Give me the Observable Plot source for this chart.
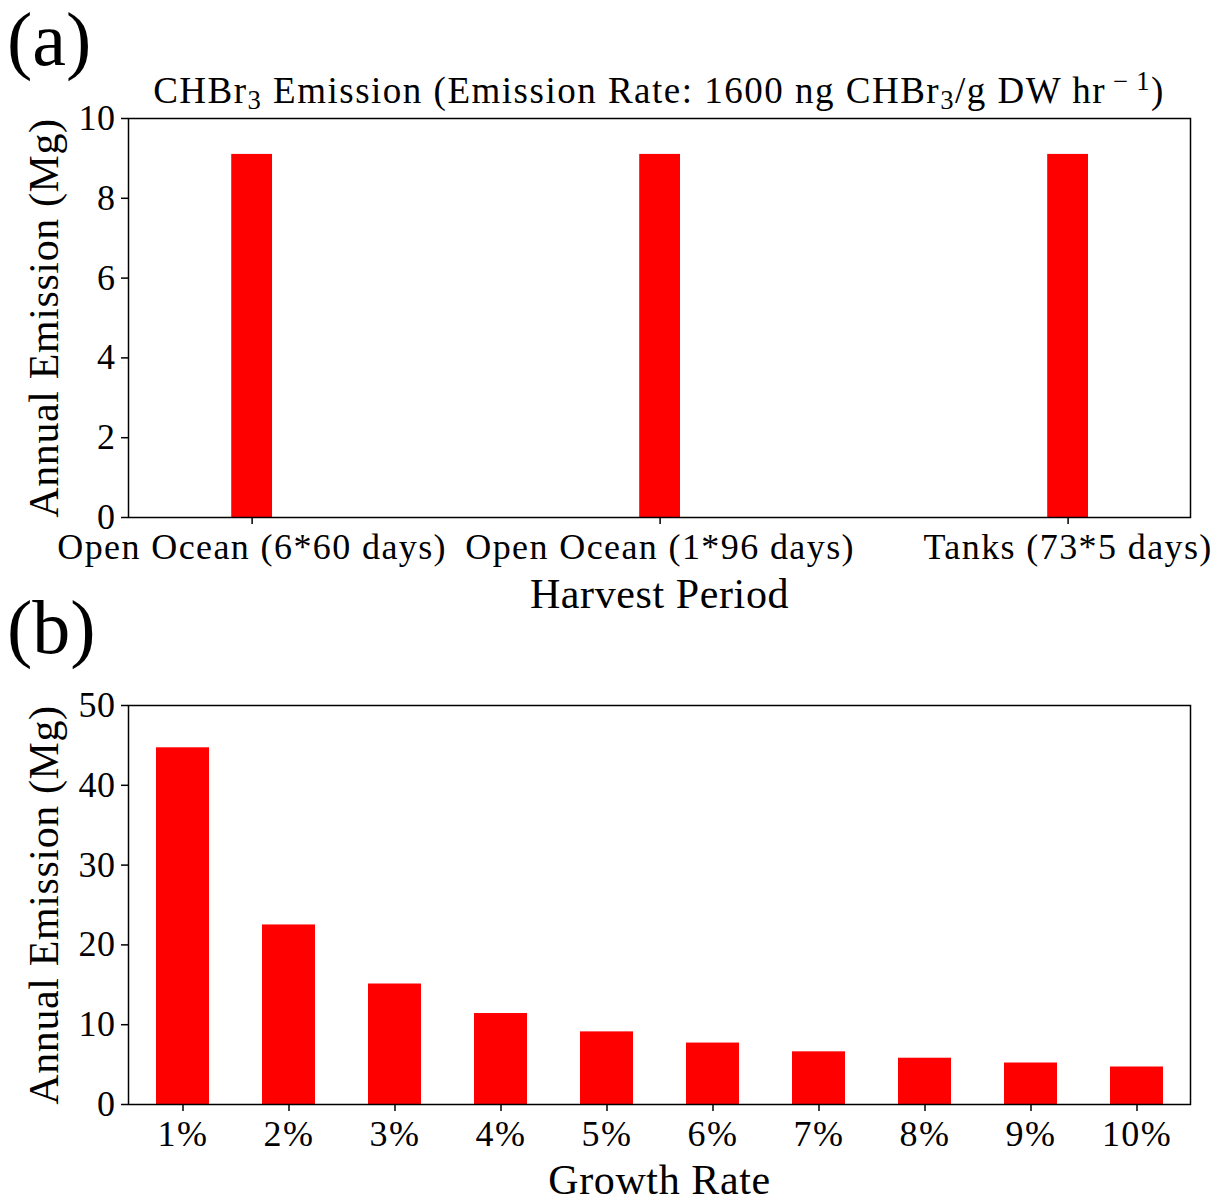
<!DOCTYPE html>
<html><head><meta charset="utf-8">
<script src="https://cdn.jsdelivr.net/npm/d3@7"></script>
<script src="https://cdn.jsdelivr.net/npm/@observablehq/plot@0.6"></script>
<style>
body{margin:0;background:#fff;}
#wrap{position:relative;width:1228px;height:1199px;font-family:"Liberation Serif","Times New Roman",serif;color:#000;overflow:hidden;background:#fff}
.abs{position:absolute;white-space:nowrap;line-height:1}
.panel{position:absolute;left:0}
.sub{font-size:0.72em;position:relative;top:0.24em}
.sup{font-size:0.72em;position:relative;top:-0.5em}
.chart g[aria-label="x-axis tick label"] text{letter-spacing:1.4px}
.chart g[aria-label="y-axis tick label"] text{letter-spacing:0.5px}
.chart g[aria-label="text"] text{letter-spacing:0.6px}
</style></head><body>
<div id="wrap">
  <div id="pa" class="panel" style="top:0"></div>
  <div id="pb" class="panel" style="top:620px"></div>
  <div class="abs" style="left:7px;top:1px;font-size:76px">(a)</div>
  <div class="abs" style="left:7px;top:589px;font-size:76px">(b)</div>
  <div class="abs" style="left:128px;width:1062px;text-align:center;top:72px;font-size:37px;letter-spacing:1.5px">CHBr<span class="sub">3</span> Emission (Emission Rate: 1600 ng CHBr<span class="sub">3</span>/g DW hr<span class="sup">&#8201;&#8722;&#8201;1</span>)</div>
</div>
<script>
const harvestPeriods = ["Open Ocean (6*60 days)", "Open Ocean (1*96 days)", "Tanks (73*5 days)"];
const harvestEmission = [9.1, 9.1, 9.1];
const harvestTicks = [0, 2, 4, 6, 8, 10];

const growthRates = ["1%", "2%", "3%", "4%", "5%", "6%", "7%", "8%", "9%", "10%"];
const growthEmission = [44.7, 22.5, 15.1, 11.4, 9.1, 7.7, 6.6, 5.8, 5.2, 4.7];
const growthTicks = [0, 10, 20, 30, 40, 50];

const yLabel = "Annual Emission (Mg)";
const xLabelA = "Harvest Period";
const xLabelB = "Growth Rate";

const font = '"Liberation Serif", "Times New Roman", serif';
const style = {fontFamily: font, fontSize: "36px", color: "black", background: "white", overflow: "visible"};
const tickFont = 36, labelFont = 42;

const dataA = harvestPeriods.map((p, i) => ({i, p, v: harvestEmission[i]}));
const halfWidth = 0.05;

const chartA = Plot.plot({
  width: 1228, height: 620,
  marginLeft: 128, marginRight: 38, marginTop: 118, marginBottom: 103,
  className: "chart",
  style,
  x: {type: "linear", domain: [-0.303, 2.3]},
  y: {domain: [0, 10]},
  marks: [
    Plot.rect(dataA, {x1: d => d.i - halfWidth, x2: d => d.i + halfWidth, y1: 0, y2: "v", fill: "red"}),
    Plot.frame({stroke: "black", strokeWidth: 1.5}),
    Plot.axisX({ticks: dataA.map(d => d.i), tickFormat: i => harvestPeriods[i], tickSize: 7, tickPadding: 9, fontSize: tickFont, strokeWidth: 1.5, label: null}),
    Plot.axisY({ticks: harvestTicks, tickSize: 7, tickPadding: 6, fontSize: tickFont, strokeWidth: 1.5, label: null}),
    Plot.text([xLabelA], {text: d => d, frameAnchor: "bottom", lineAnchor: "middle", textAnchor: "middle", dy: 77, fontSize: labelFont}),
    Plot.text([yLabel], {text: d => d, frameAnchor: "left", lineAnchor: "middle", textAnchor: "middle", dx: -84, rotate: -90, fontSize: labelFont})
  ]
});
document.getElementById("pa").appendChild(chartA);

const dataB = growthRates.map((g, i) => ({g, v: growthEmission[i]}));
const chartB = Plot.plot({
  width: 1228, height: 579,
  marginLeft: 128, marginRight: 38, marginTop: 85, marginBottom: 95,
  className: "chart",
  style,
  x: {type: "band", domain: growthRates, paddingInner: 0.5, paddingOuter: 0.25},
  y: {domain: [0, 50]},
  marks: [
    Plot.barY(dataB, {x: "g", y: "v", fill: "red"}),
    Plot.frame({stroke: "black", strokeWidth: 1.5}),
    Plot.axisX({tickSize: 7, tickPadding: 9, fontSize: tickFont, strokeWidth: 1.5, label: null}),
    Plot.axisY({ticks: growthTicks, tickSize: 7, tickPadding: 6, fontSize: tickFont, strokeWidth: 1.5, label: null}),
    Plot.text([xLabelB], {text: d => d, frameAnchor: "bottom", lineAnchor: "middle", textAnchor: "middle", dy: 76, fontSize: labelFont}),
    Plot.text([yLabel], {text: d => d, frameAnchor: "left", lineAnchor: "middle", textAnchor: "middle", dx: -84, rotate: -90, fontSize: labelFont})
  ]
});
document.getElementById("pb").appendChild(chartB);
</script>
</body></html>
